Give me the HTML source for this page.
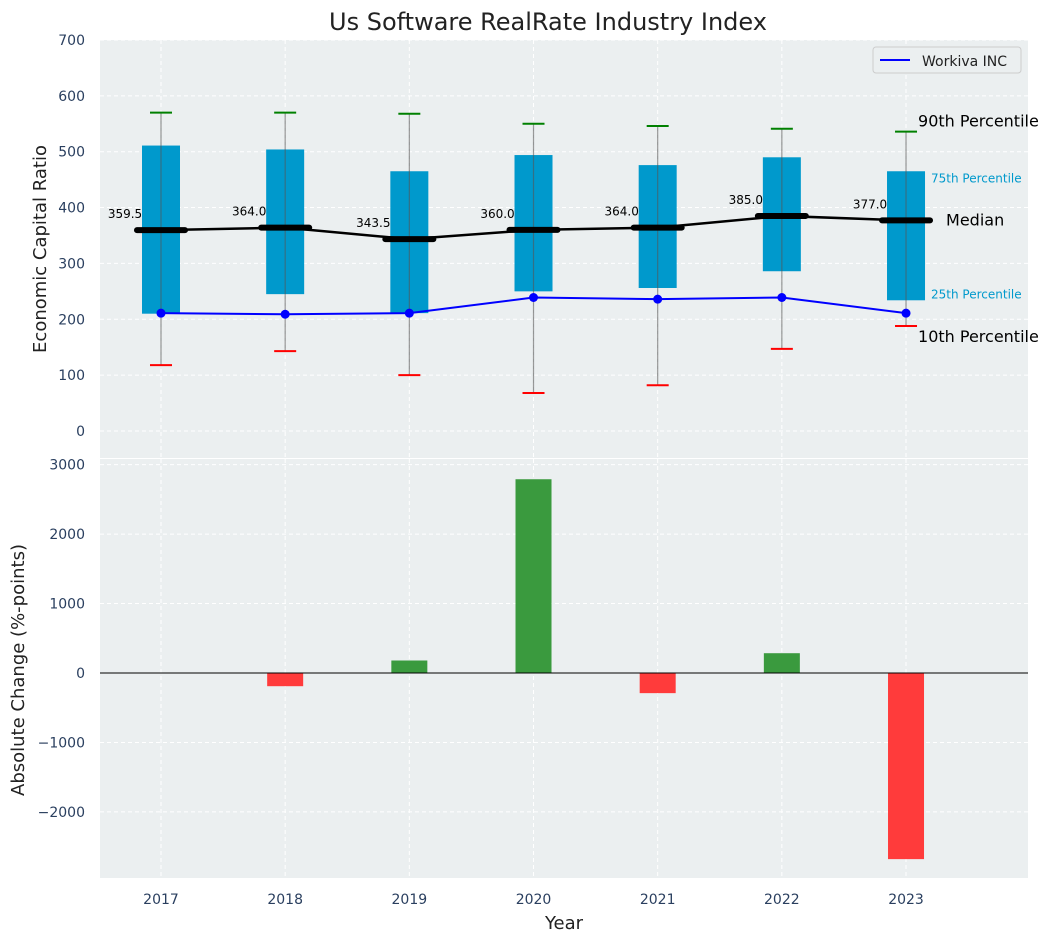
<!DOCTYPE html>
<html><head><meta charset="utf-8"><style>
body{margin:0;background:#fff;}
svg text{font-family:"DejaVu Sans","Liberation Sans",sans-serif;}
</style></head><body>
<svg id="chart" width="1053" height="942" xmlns="http://www.w3.org/2000/svg">
<text x="548" y="30" font-size="24" text-anchor="middle" fill="#222">Us Software RealRate Industry Index</text>
<rect x="100" y="40" width="928" height="418" fill="#ebeff0"/>
<rect x="100" y="459" width="928" height="419" fill="#ebeff0"/>
<g id="top"></g><g id="bot"></g>
<text x="46" y="249" font-size="18" fill="#222" text-anchor="middle" transform="rotate(-90 46 249)">Economic Capital Ratio</text>
<text x="24" y="670" font-size="18" fill="#222" text-anchor="middle" transform="rotate(-90 24 670)">Absolute Change (%-points)</text>
<text x="564" y="929" font-size="18" fill="#222" text-anchor="middle">Year</text>
<g>
<rect x="873" y="47" width="148" height="26" rx="3" fill="#ebeff0" stroke="#ccc"/>
<line x1="880" y1="60" x2="910" y2="60" stroke="blue" stroke-width="2"/>
<text x="922" y="66" font-size="14" fill="#222">Workiva INC</text>
</g>
</svg>
<script>
const years=[2017,2018,2019,2020,2021,2022,2023];
const q1=[210,245,211,250,256,286,234];
const q3=[511,504,465,494,476,490,465];
const p10=[118,143,100,68,82,147,188];
const p90=[570,570,568,550,546,541,536];
const medians=[359.5,364,343.5,360,364,385,377];
const workiva=[211,209,211,239,236,239,211];
const changes=[0,-190,180,2790,-290,285,-2680];
const topTicks=[0,100,200,300,400,500,600,700];
const botTicks=[-2000,-1000,0,1000,2000,3000];
const NS="http://www.w3.org/2000/svg";
const xs=y=>161+(y-2017)*124.17;
const yt=v=>431-v*0.5586;
const yb=v=>673-v*0.06945;
function mk(p,t,a){const e=document.createElementNS(NS,t);for(const k in a)e.setAttribute(k,a[k]);p.appendChild(e);return e;}
const T=document.getElementById('top'),B=document.getElementById('bot');
topTicks.forEach(v=>{const l=mk(T,'line',{x1:100,x2:1028,y1:yt(v),y2:yt(v),stroke:'#fff','stroke-dasharray':'4,3'});

const t=mk(T,'text',{x:85,y:yt(v)+5,'font-size':14,'text-anchor':'end',fill:'#2a3f5f'});t.textContent=v;
});
botTicks.forEach(v=>{const l=mk(B,'line',{x1:100,x2:1028,y1:yb(v),y2:yb(v),stroke:'#fff','stroke-dasharray':'4,3'});

const t=mk(B,'text',{x:85,y:yb(v)+5,'font-size':14,'text-anchor':'end',fill:'#2a3f5f'});t.textContent=(v<0?'\u2212'+(-v):v);
});
years.forEach(y=>{[[40,458],[459,878]].forEach(r=>{const l=mk(T,'line',{x1:xs(y),x2:xs(y),y1:r[0],y2:r[1],stroke:'#fff','stroke-dasharray':'4,3'});
});
const t=mk(B,'text',{x:xs(y),y:904,'font-size':14,'text-anchor':'middle',fill:'#2a3f5f'});t.textContent=y;
});
years.forEach((y,i)=>{const x=xs(y);
const b=mk(T,'rect',{x:x-19,y:yt(q3[i]),width:38,height:yt(q1[i])-yt(q3[i]),fill:'#0099cc'});

const w=mk(T,'line',{x1:x,x2:x,y1:yt(p90[i]),y2:yt(p10[i]),stroke:'#555','stroke-opacity':0.6,'stroke-width':1.2});

const c1=mk(T,'line',{x1:x-11,x2:x+11,y1:yt(p90[i]),y2:yt(p90[i]),stroke:'green','stroke-width':2});

const c2=mk(T,'line',{x1:x-11,x2:x+11,y1:yt(p10[i]),y2:yt(p10[i]),stroke:'red','stroke-width':2});

});
const mp=mk(T,'polyline',{points:years.map((y,i)=>xs(y)+','+yt(medians[i])).join(' '),fill:'none',stroke:'#000','stroke-width':2.5});

years.forEach((y,i)=>{const x=xs(y);
const m=mk(T,'line',{x1:x-24,x2:x+24,y1:yt(medians[i]),y2:yt(medians[i]),stroke:'#000','stroke-width':6,'stroke-linecap':'round'});

const t=mk(T,'text',{x:x-36,y:yt(medians[i])-12,'font-size':12,'text-anchor':'middle',fill:'#000'});t.textContent=medians[i].toFixed(1);
});
const wp=mk(T,'polyline',{points:years.map((y,i)=>xs(y)+','+yt(workiva[i])).join(' '),fill:'none',stroke:'blue','stroke-width':2});

years.forEach((y,i)=>{const c=mk(T,'circle',{cx:xs(y),cy:yt(workiva[i]),r:4.5,fill:'blue'});
});
const L=years.length-1,xl=xs(years[L]);
[[p90[L],12,'90th Percentile',16,'#000',-5],[q3[L],25,'75th Percentile',12,'#0099cc',11],[medians[L],40,'Median',16,'#000',5],[q1[L],25,'25th Percentile',12,'#0099cc',-2],[p10[L],12,'10th Percentile',16,'#000',16]].forEach(a=>{
const t=mk(T,'text',{x:xl+a[1],y:yt(a[0])+a[5],'font-size':a[3],fill:a[4]});t.textContent=a[2];
});
years.forEach((y,i)=>{if(!changes[i])return;const v=changes[i];
const r=mk(B,'rect',{x:xs(y)-18,y:Math.min(yb(v),yb(0)),width:36,height:Math.abs(yb(v)-yb(0)),fill:v>0?'#3a9a3e':'#ff3b3b'});
});
const z=mk(B,'line',{x1:100,x2:1028,y1:yb(0),y2:yb(0),stroke:'#000','stroke-width':1});

</script>
</body></html>
